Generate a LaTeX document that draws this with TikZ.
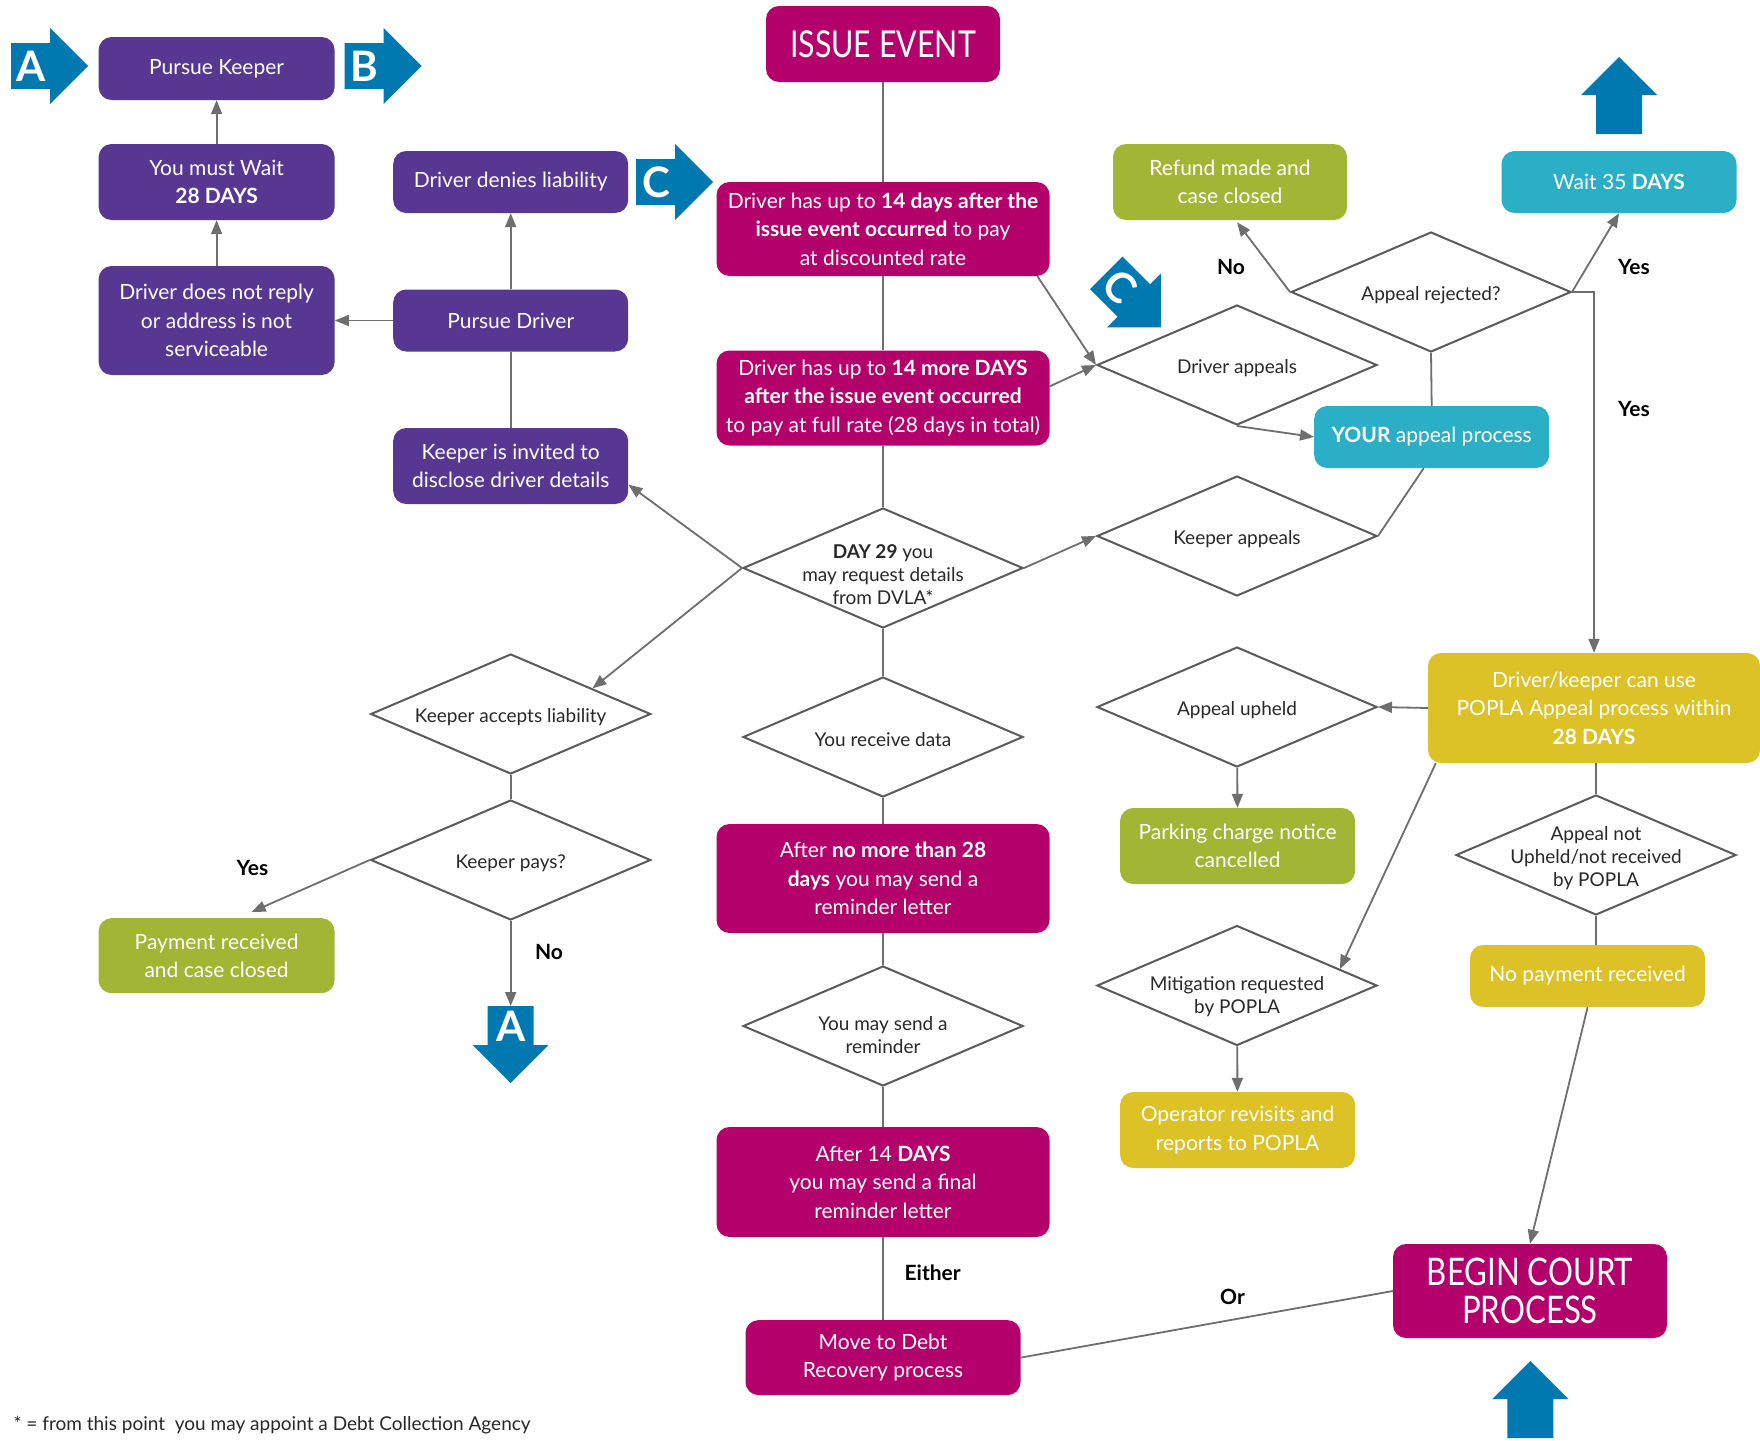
\documentclass[tikz,border=0pt]{standalone}
\usepackage{fontspec}
\setmainfont{Lato}
\newfontfamily\condfont{Lato}[FakeStretch=0.82]
\usetikzlibrary{shapes.geometric,arrows.meta,calc}
\definecolor{cpurple}{RGB}{88,55,146}
\definecolor{cmag}{RGB}{180,0,106}
\definecolor{cgreen}{RGB}{162,181,53}
\definecolor{ccyan}{RGB}{42,175,198}
\definecolor{cyellow}{RGB}{220,193,39}
\definecolor{cblue}{RGB}{0,121,176}
\definecolor{cline}{RGB}{110,110,110}
\definecolor{cdia}{RGB}{90,90,90}
\definecolor{ctext}{RGB}{40,40,40}
\newcommand\myboxfont{\fontsize{21}{28.6}\selectfont}
\newcommand\mydiafont{\fontsize{19}{23}\selectfont}
\newcommand\mylblfont{\fontsize{21}{24}\selectfont\bfseries}
\newcommand\myletterfont{\fontsize{42}{42}\selectfont\bfseries}
\newcommand\myarrow[3]{\begin{scope}[shift={#1},rotate=#2]
  \fill[cblue] (0,-23) -- (39,-23) -- (39,-38) -- (77,0) -- (39,38) -- (39,23) -- (0,23) -- cycle;
  #3
\end{scope}}
\tikzset{
  box/.style={rectangle, rounded corners=13pt, text=white, align=center, inner sep=2pt,
    minimum width=235pt, font=\myboxfont},
  pbox/.style={box, fill=cpurple},
  mbox/.style={box, fill=cmag},
  gbox/.style={box, fill=cgreen},
  cbox/.style={box, fill=ccyan},
  ybox/.style={box, fill=cyellow},
  dia/.style={diamond, draw=cdia, line width=2pt, fill=white, minimum width=280pt,
    minimum height=120pt, inner sep=0pt},
  diatext/.style={text=ctext, align=center, font=\mydiafont, yshift=-3pt},
  conn/.style={draw=cline, line width=1.8pt},
  arr/.style={conn, -{Triangle[length=14pt,width=11pt]}},
  lbl/.style={font=\mylblfont, text=black},
  letter/.style={font=\myletterfont, text=white},
}
\begin{document}
\begin{tikzpicture}[x=1pt,y=-1pt]
\useasboundingbox (0,0) rectangle (1760,1440);
\fill[white] (0,0) rectangle (1760,1440);

% purple column
\node[pbox, minimum height=63pt, minimum width=236pt] (pk) at (216.6,68.5) {Pursue Keeper};
\node[pbox, minimum height=76pt, minimum width=236pt] (mw) at (216.6,182) {You must Wait\\\textbf{28 DAYS}};
\node[pbox, minimum height=109pt, minimum width=236pt] (dnr) at (216.6,320.5) {Driver does not reply\\or address is not\\serviceable};
\node[pbox, minimum height=62pt] (ddl) at (510.7,182) {Driver denies liability};
\node[pbox, minimum height=62pt] (pd) at (510.7,320.5) {Pursue Driver};
\node[pbox, minimum height=76pt] (kid) at (510.7,466) {Keeper is invited to\\disclose driver details};

% magenta column
\node[mbox, minimum height=76pt, minimum width=234pt, font=\condfont\fontsize{37}{40}\selectfont] (ie) at (883,44) {ISSUE EVENT};
\node[mbox, minimum height=94pt, minimum width=333pt] (b14) at (883,229) {Driver has up to \textbf{14 days after the}\\\textbf{issue event occurred} to pay\\at discounted rate};
\node[mbox, minimum height=95pt, minimum width=333pt] (b14m) at (883,398) {Driver has up to \textbf{14 more DAYS}\\\textbf{after the issue event occurred}\\to pay at full rate (28 days in total)};
\node[mbox, minimum height=109pt, minimum width=333pt] (bnm) at (883,878.5) {After \textbf{no more than 28}\\\textbf{days} you may send a\\reminder letter};
\node[mbox, minimum height=110pt, minimum width=333pt] (b14d) at (883,1182) {After 14 \textbf{DAYS}\\you may send a final\\reminder letter};
\node[mbox, minimum height=75pt, minimum width=275pt] (mdr) at (883,1357.6) {Move to Debt\\Recovery process};
\node[mbox, minimum height=94pt, minimum width=274pt, font=\condfont\fontsize{38}{38}\selectfont] (bcp) at (1530,1291) {BEGIN COURT\\PROCESS};

% green
\node[gbox, minimum height=76pt, minimum width=234pt] (rmc) at (1230,182) {Refund made and\\case closed};
\node[gbox, minimum height=75pt, minimum width=236pt] (prc) at (216.6,955.7) {Payment received\\and case closed};
\node[gbox, minimum height=76pt] (pcn) at (1237.6,846) {Parking charge notice\\cancelled};

% cyan
\node[cbox, minimum height=62pt] (w35) at (1619,182) {Wait 35 \textbf{DAYS}};
\node[cbox, minimum height=62pt] (yap) at (1431.7,437) {\textbf{YOUR} appeal process};

% yellow
\node[ybox, minimum height=110pt, minimum width=332pt] (pop) at (1594,708) {Driver/keeper can use\\POPLA Appeal process within\\\textbf{28 DAYS}};
\node[ybox, minimum height=62pt] (npr) at (1587.6,976) {No payment received};
\node[ybox, minimum height=76pt] (orp) at (1237.6,1130) {Operator revisits and\\reports to POPLA};

% diamonds
\node[dia] (da) at (1237,365) {};
\node[diatext] (dat) at (da) {Driver appeals};
\node[dia] (ar) at (1431,292) {};
\node[diatext] (art) at (ar) {Appeal rejected?};
\node[dia] (ka) at (1237,536) {};
\node[diatext] (kat) at (ka) {Keeper appeals};
\node[dia] (d29) at (883,568) {};
\node[diatext, yshift=-4pt] (d29t) at (d29) {\textbf{DAY 29} you\\may request details\\from DVLA*};
\node[dia] (kal) at (510.7,714) {};
\node[diatext] (kalt) at (kal) {Keeper accepts liability};
\node[dia] (kp) at (510.7,860) {};
\node[diatext] (kpt) at (kp) {Keeper pays?};
\node[dia] (rd) at (883,737) {};
\node[diatext] (rdt) at (rd) {You receive data};
\node[dia] (sr) at (883,1026) {};
\node[diatext, yshift=-6pt] (srt) at (sr) {You may send a\\reminder};
\node[dia] (au) at (1237,707) {};
\node[diatext] (aut) at (au) {Appeal upheld};
\node[dia] (anu) at (1596,855) {};
\node[diatext] (anut) at (anu) {Appeal not\\Upheld/not received\\by POPLA};
\node[dia] (mr) at (1237,985.5) {};
\node[diatext, yshift=-8pt] (mrt) at (mr) {Mitigation requested\\by POPLA};

% blue arrows
\myarrow{(11,66)}{0}{\node[letter] (la1) at (20,0) {A};}
\myarrow{(344.6,66)}{0}{\node[letter] (lb) at (20,0) {B};}
\myarrow{(636,182)}{0}{\node[letter] (lc1) at (20,0) {C};}
\myarrow{(1106.3,272.9)}{-45}{\node[letter, transform shape] (lc2) at (20,0) {C};}
\myarrow{(1619,134)}{90}{}
\myarrow{(1530.3,1438)}{90}{}
\myarrow{(510.7,1006)}{-90}{\node[letter] (la2) at (20,0) {A};}
\coordinate (adtop) at (510.7,1006);

% connectors
\draw[conn] (ie) -- (b14);
\draw[conn] (b14) -- (b14m);
\draw[conn] (b14m) -- (d29);
\draw[conn] (d29) -- (rd);
\draw[conn] (rd) -- (bnm);
\draw[conn] (bnm) -- (sr);
\draw[conn] (sr) -- (b14d);
\draw[conn] (b14d) -- (mdr);
\draw[arr] (b14.-17) -- (da.west);
\draw[arr] (b14m.4) -- (da.west);
\draw[arr] (da.south) -- (yap.west);
\draw[conn] (yap.north) -- (ar.south);
\draw[conn] (ka.east) -- ($(yap.south)+(-8,0)$);
\draw[arr] (d29.east) -- (ka.west);
\draw[arr] (ar.west) -- ($(rmc.south)+(7,2)$);
\draw[arr] (ar.east) -- (w35.south);
\draw[arr] (ar.east) -| (pop.north);
\draw[arr] (d29.west) -- (kid.-9);
\draw[arr] (d29.west) -- ($(kal.north)!0.58!(kal.east)$);
\draw[conn] (kid) -- (pd);
\draw[arr] (pd) -- (ddl);
\draw[arr] (pd) -- (dnr);
\draw[arr] (dnr) -- (mw);
\draw[arr] (mw) -- (pk);
\draw[conn] (kal) -- (kp);
\draw[arr] (kp.west) -- ($(prc.north)+(35,-6)$);
\draw[arr] (kp.south) -- (adtop);
\draw[arr] (pop.west) -- (au.east);
\draw[arr] (au) -- (pcn);
\draw[arr] ($(pop.south west)+(8,0)$) -- ($(mr.north)!0.73!(mr.east)$);
\draw[arr] (mr) -- (orp);
\draw[conn] (anu.north |- pop.south) -- (anu.north);
\draw[conn] (anu.south) -- (anu.south |- npr.north);
\draw[arr] (npr.south) -- (bcp.north);
\draw[conn] (mdr.east) -- (bcp.west);

% labels
\node[lbl] (lno1) at (1231,267) {No};
\node[lbl] (lyes1) at (1634,267) {Yes};
\node[lbl] (lyes2) at (1634,408.6) {Yes};
\node[lbl] (lyes3) at (252.5,867.6) {Yes};
\node[lbl] (lno2) at (549,952) {No};
\node[lbl] (leither) at (932.7,1273) {Either};
\node[lbl] (lor) at (1232.5,1296.4) {Or};

\node[anchor=west, font=\fontsize{19}{22}\selectfont, text=ctext] (fn) at (10,1425) {* = from this point \ you may appoint a Debt Collection Agency};
\end{tikzpicture}
\end{document}
